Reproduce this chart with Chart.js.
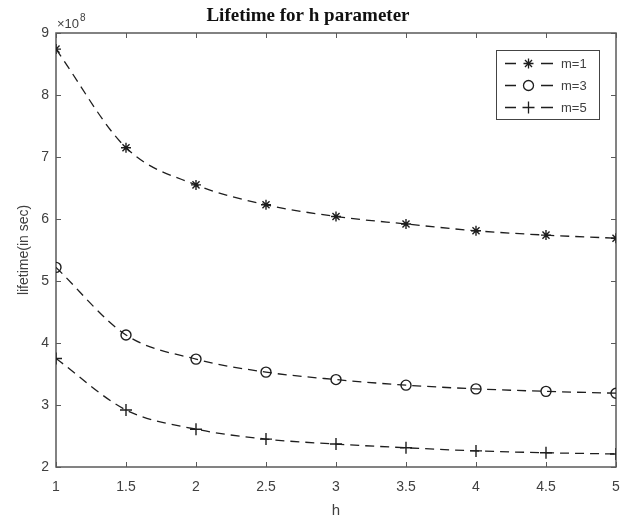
<!DOCTYPE html>
<html>
<head>
<meta charset="utf-8">
<script src="https://cdn.jsdelivr.net/npm/chart.js@4"></script>
<style>
  html, body { margin: 0; padding: 0; background: #fff; }
  #wrap { width: 626px; height: 522px; }
</style>
</head>
<body>
<div id="wrap"><canvas id="grafico"></canvas></div>
<script>
// datos (lifetime en unidades de 1e8 s)
const hValues = [1, 1.5, 2, 2.5, 3, 3.5, 4, 4.5, 5];
const lifeM1 = [8.74, 7.15, 6.55, 6.23, 6.04, 5.92, 5.81, 5.74, 5.69];
const lifeM3 = [5.22, 4.13, 3.74, 3.53, 3.41, 3.32, 3.26, 3.22, 3.19];
const lifeM5 = [3.75, 2.92, 2.61, 2.45, 2.37, 2.31, 2.26, 2.23, 2.21];
const seriesLabels = ['m=1', 'm=3', 'm=5'];
const xTicks = [1, 1.5, 2, 2.5, 3, 3.5, 4, 4.5, 5];
const yTicks = [2, 3, 4, 5, 6, 7, 8, 9];

const lineColor = '#1e1e1e';
const axisColor = '#5a5a5a';
const textColor = '#404040';

function serie(label, values, style, radius) {
    return {
        label: label,
        data: hValues.map((h, i) => ({ x: h, y: values[i] })),
        borderColor: lineColor,
        backgroundColor: 'rgba(0,0,0,0)',
        borderWidth: 1.3,
        borderDash: [9, 6],
        cubicInterpolationMode: 'monotone',
        pointStyle: style,
        pointRadius: radius,
        pointBorderColor: lineColor,
        pointBackgroundColor: 'rgba(0,0,0,0)',
        pointBorderWidth: 1.4
    };
}

// ---- caja estilo matlab, ticks hacia adentro, exponente y leyenda ----
const cajaMatlab = {
    id: 'cajaMatlab',
    beforeDatasetsDraw(chart) {
        const { ctx, chartArea: a, scales } = chart;
        ctx.save();
        ctx.strokeStyle = axisColor;
        ctx.lineWidth = 1.5;
        ctx.strokeRect(a.left, a.top, a.right - a.left, a.bottom - a.top);
        ctx.lineWidth = 1;
        ctx.beginPath();
        xTicks.forEach(v => {
            const px = Math.round(scales.x.getPixelForValue(v)) + 0.5;
            ctx.moveTo(px, a.bottom); ctx.lineTo(px, a.bottom - 5);
            ctx.moveTo(px, a.top); ctx.lineTo(px, a.top + 5);
        });
        yTicks.forEach(v => {
            const py = Math.round(scales.y.getPixelForValue(v)) + 0.5;
            ctx.moveTo(a.left, py); ctx.lineTo(a.left + 5, py);
            ctx.moveTo(a.right, py); ctx.lineTo(a.right - 5, py);
        });
        ctx.stroke();
        ctx.restore();
    },
    afterDraw(chart) {
        const { ctx, chartArea: a } = chart;
        ctx.save();
        // exponente del eje y
        ctx.fillStyle = textColor;
        ctx.font = '13px "Liberation Sans", Arial, sans-serif';
        ctx.textBaseline = 'alphabetic';
        ctx.textAlign = 'left';
        ctx.fillText('\u00d710', a.left + 1, a.top - 5);
        const w = ctx.measureText('\u00d710').width;
        ctx.font = '10px "Liberation Sans", Arial, sans-serif';
        ctx.fillText('8', a.left + 1 + w + 1, a.top - 12);

        // leyenda
        const bx = 496, by = 50, bw = 103, bh = 69;
        ctx.fillStyle = '#fff';
        ctx.fillRect(bx, by, bw, bh);
        ctx.strokeStyle = '#444';
        ctx.lineWidth = 1;
        ctx.strokeRect(bx + 0.5, by + 0.5, bw, bh);
        chart.data.datasets.forEach((ds, i) => {
            const y = Math.round(by + 13 + i * 22) + 0.5;
            ctx.strokeStyle = lineColor;
            ctx.lineWidth = 1.3;
            ctx.beginPath();
            ctx.moveTo(505, y); ctx.lineTo(516, y);
            ctx.moveTo(541, y); ctx.lineTo(553, y);
            ctx.stroke();
            ctx.fillStyle = 'rgba(0,0,0,0)';
            Chart.helpers.drawPoint(ctx, {
                pointStyle: ds.pointStyle,
                radius: ds.pointRadius,
                borderWidth: 1.4,
                rotation: 0
            }, 528.5, y);
            ctx.fillStyle = textColor;
            ctx.font = '13px "Liberation Sans", Arial, sans-serif';
            ctx.textBaseline = 'middle';
            ctx.textAlign = 'left';
            ctx.fillText(seriesLabels[i], 561, y + 1);
        });
        ctx.restore();
    }
};

const ctx = document.getElementById('grafico').getContext('2d');
const grafico = new Chart(ctx, {
    type: 'line',
    data: {
        datasets: [
            serie(seriesLabels[0], lifeM1, 'star', 5),
            serie(seriesLabels[1], lifeM3, 'circle', 5),
            serie(seriesLabels[2], lifeM5, 'cross', 6)
        ]
    },
    options: {
        responsive: true,
        maintainAspectRatio: false,
        animation: false,
        layout: { padding: { left: 0, right: 10, top: 0, bottom: 0 } },
        plugins: {
            legend: { display: false },
            tooltip: { enabled: false },
            title: {
                display: true,
                text: 'Lifetime for h parameter',
                color: '#111',
                font: { family: '"Liberation Serif", "Times New Roman", serif', size: 19, weight: 'bold', lineHeight: 1.2 },
                padding: { top: 5, bottom: 5.2 }
            }
        },
        scales: {
            x: {
                type: 'linear',
                min: 1,
                max: 5,
                afterBuildTicks: s => { s.ticks = xTicks.map(v => ({ value: v })); },
                afterFit: s => { s.height = 55; s.paddingLeft = 0; s.paddingRight = 0; },
                grid: { display: false, drawTicks: false },
                border: { display: false },
                ticks: {
                    color: textColor,
                    padding: 12,
                    maxRotation: 0,
                    callback: v => String(v),
                    font: { family: '"Liberation Sans", Arial, sans-serif', size: 14 }
                },
                title: {
                    display: true,
                    text: 'h',
                    color: textColor,
                    padding: { top: 0, bottom: 2 },
                    font: { family: '"Liberation Sans", Arial, sans-serif', size: 15 }
                }
            },
            y: {
                type: 'linear',
                min: 2,
                max: 9,
                afterBuildTicks: s => { s.ticks = yTicks.map(v => ({ value: v })); },
                afterFit: s => { s.width = 56; s.paddingTop = 0; s.paddingBottom = 0; },
                grid: { display: false, drawTicks: false },
                border: { display: false },
                ticks: {
                    color: textColor,
                    padding: 7,
                    callback: v => String(v),
                    font: { family: '"Liberation Sans", Arial, sans-serif', size: 14 }
                },
                title: {
                    display: true,
                    text: 'lifetime(in sec)',
                    color: textColor,
                    padding: { top: 15.6, bottom: 0 },
                    font: { family: '"Liberation Sans", Arial, sans-serif', size: 14 }
                }
            }
        }
    },
    plugins: [cajaMatlab]
});
</script>
</body>
</html>
